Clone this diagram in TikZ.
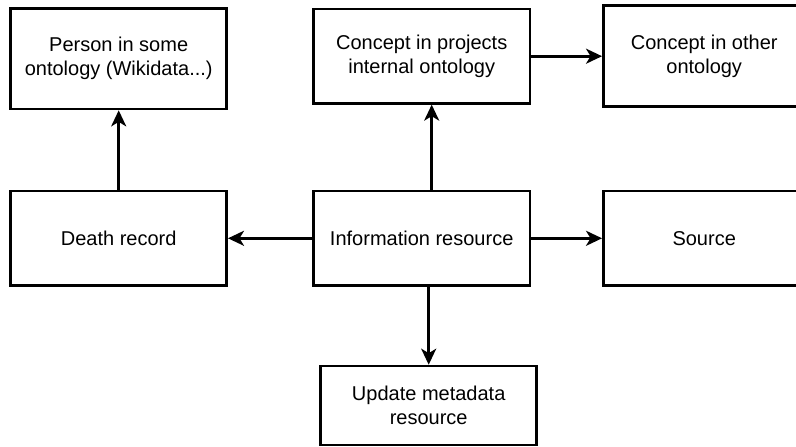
\documentclass[tikz,border=0pt]{standalone}
\usepackage{fontspec}
\setmainfont{Liberation Sans}
\usetikzlibrary{arrows.meta,calc}
\begin{document}
\begin{tikzpicture}[x=1pt,y=-1pt,
  box/.style={draw=black,line width=2.6pt,rectangle,align=center,inner sep=0pt,
    font=\fontsize{20}{24}\selectfont},
  conn/.style={line width=2.6pt,-{Stealth[length=16pt,width=15pt,inset=4.5pt]}}]
\useasboundingbox (0,0) rectangle (796,447);
\node[box,minimum width=216pt,minimum height=100.7pt] (person) at (118.7,58.7) {Person in some\\ontology (Wikidata...)};
\node[box,minimum width=216.7pt,minimum height=94.3pt] (cproj) at (421.7,56.2) {Concept in projects\\internal ontology};
\node[box,minimum width=201.7pt,minimum height=101pt] (cother) at (704.2,56.2) {Concept in other\\ontology};
\node[box,minimum width=216pt,minimum height=94.7pt] (death) at (118.7,238.3) {Death record};
\node[box,minimum width=216.7pt,minimum height=94.7pt] (info) at (421.7,238.3) {Information resource};
\node[box,minimum width=201.7pt,minimum height=94.7pt] (source) at (704.2,238.3) {Source};
\node[box,minimum width=216pt,minimum height=79pt] (upd) at (428.7,405.5) {Update metadata\\resource};
\draw[conn] (death) -- (person);
\draw[conn] (info) -- (death);
\draw[conn] (info) -- (source);
\draw[conn] (cproj.east) -- (cproj.east -| cother.west);
\draw[conn] ($(info.north)+(10,0)$) -- ($(cproj.south)+(10,0)$);
\draw[conn] (info.south -| upd.north) -- (upd.north);
\end{tikzpicture}
\end{document}
